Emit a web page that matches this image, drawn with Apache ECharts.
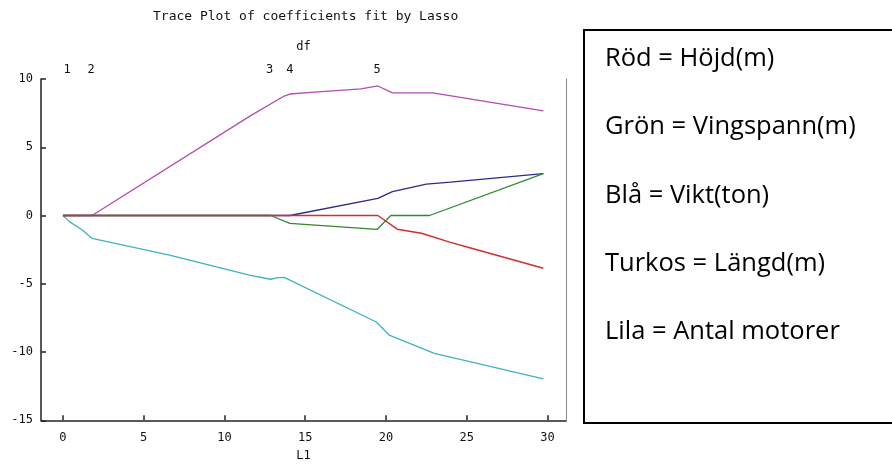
<!DOCTYPE html>
<html>
<head>
<meta charset="utf-8">
<script src="https://cdn.jsdelivr.net/npm/echarts@6/dist/echarts.min.js"></script>
<style>
html,body{margin:0;padding:0;background:#fff;}
#chart{width:892px;height:466px;}
</style>
</head>
<body>
<div id="chart"></div>
<script>
// ---- data ----
const titleText = 'Trace Plot of coefficients fit by Lasso';
const xTicks = [0, 5, 10, 15, 20, 25, 30];
const yTicks = [-15, -10, -5, 0, 5, 10];
const dfPositions = [0.25, 1.75, 12.8, 14.05, 19.45];
const dfLabels = ['1', '2', '3', '4', '5'];

// Röd = Höjd(m)
const redL1   = [0, 19.5, 20.7, 22.2, 24.0, 25.3, 29.75];
const redCoef = [0, 0, -1.0, -1.3, -1.97, -2.4, -3.87];
// Grön = Vingspann(m)
const greenL1   = [0, 12.86, 14.05, 19.45, 20.3, 22.7, 29.75];
const greenCoef = [0, 0, -0.58, -1.02, 0, 0, 3.07];
// Blå = Vikt(ton)
const blueL1   = [0, 14.05, 19.5, 20.4, 22.5, 24.0, 29.75];
const blueCoef = [0, 0, 1.25, 1.75, 2.3, 2.45, 3.07];
// Turkos = Längd(m)
const cyanL1   = [0, 0.4, 1.24, 1.8, 6.6, 11.6, 12.86, 13.3, 13.7, 19.4, 20.2, 23.0, 29.75];
const cyanCoef = [0, -0.45, -1.1, -1.68, -2.9, -4.38, -4.67, -4.55, -4.53, -7.8, -8.76, -10.1, -11.97];
// Lila = Antal motorer
const lilacL1   = [0, 1.8, 11.6, 13.7, 14.05, 15.8, 18.45, 19.5, 20.4, 22.9, 29.75];
const lilacCoef = [0, 0, 7.3, 8.75, 8.9, 9.05, 9.27, 9.49, 8.98, 8.98, 7.66];

const legendLines = ['Röd = Höjd(m)', 'Grön = Vingspann(m)', 'Blå = Vikt(ton)', 'Turkos = Längd(m)', 'Lila = Antal motorer'];

// drawing order: later entries are drawn on top (red on top, as in the reference)
const seriesDefs = [
  {name: 'Turkos', l1: cyanL1, coef: cyanCoef, color: '#3db3c3', top: false},
  {name: 'Lila', l1: lilacL1, coef: lilacCoef, color: '#b24db4', top: false},
  {name: 'Blå', l1: blueL1, coef: blueCoef, color: '#2b2b8c', top: false},
  {name: 'Grön', l1: greenL1, coef: greenCoef, color: '#2f8a2f', top: false},
  {name: 'Röd', l1: redL1, coef: redCoef, color: '#d0302e', top: true}
];

const monoFont = '"DejaVu Sans Mono", monospace';
const chart = echarts.init(document.getElementById('chart'));

const option = {
  animation: false,
  backgroundColor: '#fff',
  title: {
    text: titleText,
    left: 148, top: 5,
    textStyle: {fontFamily: monoFont, fontSize: 13, fontWeight: 'normal', color: '#111'}
  },
  grid: {left: 41, right: 326, top: 79, bottom: 45.75, containLabel: false, outerBoundsMode: 'none'},
  xAxis: [
    {
      type: 'value', min: -1.36, max: 31.15, position: 'bottom',
      name: 'L1', nameLocation: 'middle', nameGap: 30,
      nameTextStyle: {fontFamily: monoFont, fontSize: 12, color: '#111'},
      axisLine: {show: true, onZero: false, lineStyle: {color: '#222', width: 1.5}},
      axisTick: {show: true, inside: true, length: 5, customValues: xTicks, lineStyle: {color: '#222', width: 1.5}},
      axisLabel: {customValues: xTicks, margin: 12, fontFamily: monoFont, fontSize: 12, color: '#111'},
      splitLine: {show: false}
    },
    {
      type: 'value', min: -1.36, max: 31.15, position: 'top',
      name: 'df', nameLocation: 'middle', nameGap: 26,
      nameTextStyle: {fontFamily: monoFont, fontSize: 12, color: '#111'},
      axisLine: {show: false, onZero: false},
      axisTick: {show: false},
      axisLabel: {
        customValues: dfPositions, margin: 3,
        fontFamily: monoFont, fontSize: 12, color: '#111',
        formatter: function (v) {
          const i = dfPositions.indexOf(v);
          return i >= 0 ? dfLabels[i] : '';
        }
      },
      splitLine: {show: false}
    }
  ],
  yAxis: [
    {
      type: 'value', min: -15, max: 10, interval: 5, position: 'left',
      axisLine: {show: true, onZero: false, lineStyle: {color: '#222', width: 1.5}},
      axisTick: {show: true, inside: true, length: 5, lineStyle: {color: '#222', width: 1.5}},
      axisLabel: {margin: 8, fontFamily: monoFont, fontSize: 12, color: '#111'},
      splitLine: {show: false}
    },
    {
      type: 'value', min: -15, max: 10, interval: 5, position: 'right',
      axisLine: {show: true, onZero: false, lineStyle: {color: '#888', width: 1}},
      axisTick: {show: false}, axisLabel: {show: false}, splitLine: {show: false}
    }
  ],
  series: seriesDefs.map(s => ({
    type: 'line', name: s.name, xAxisIndex: 0, yAxisIndex: 0,
    zlevel: s.top ? 1 : 0, z: s.top ? 10 : 2,
    data: s.l1.map((x, i) => [x, s.coef[i]]),
    showSymbol: false, symbol: 'none',
    lineStyle: {color: s.color, width: s.top ? 1.5 : 1.3},
    itemStyle: {color: s.color}
  })),
  graphic: [
    {
      type: 'rect', shape: {x: 584, y: 30, width: 340, height: 393},
      style: {fill: 'none', stroke: '#000', lineWidth: 2}
    }
  ].concat(legendLines.map((t, i) => ({
    type: 'text', x: 605, y: 59 + i * 68.2,
    style: {text: t, fill: '#000', font: '25.5px "Open Sans"', verticalAlign: 'middle'}
  })))
};
chart.setOption(option);
</script>
</body>
</html>
